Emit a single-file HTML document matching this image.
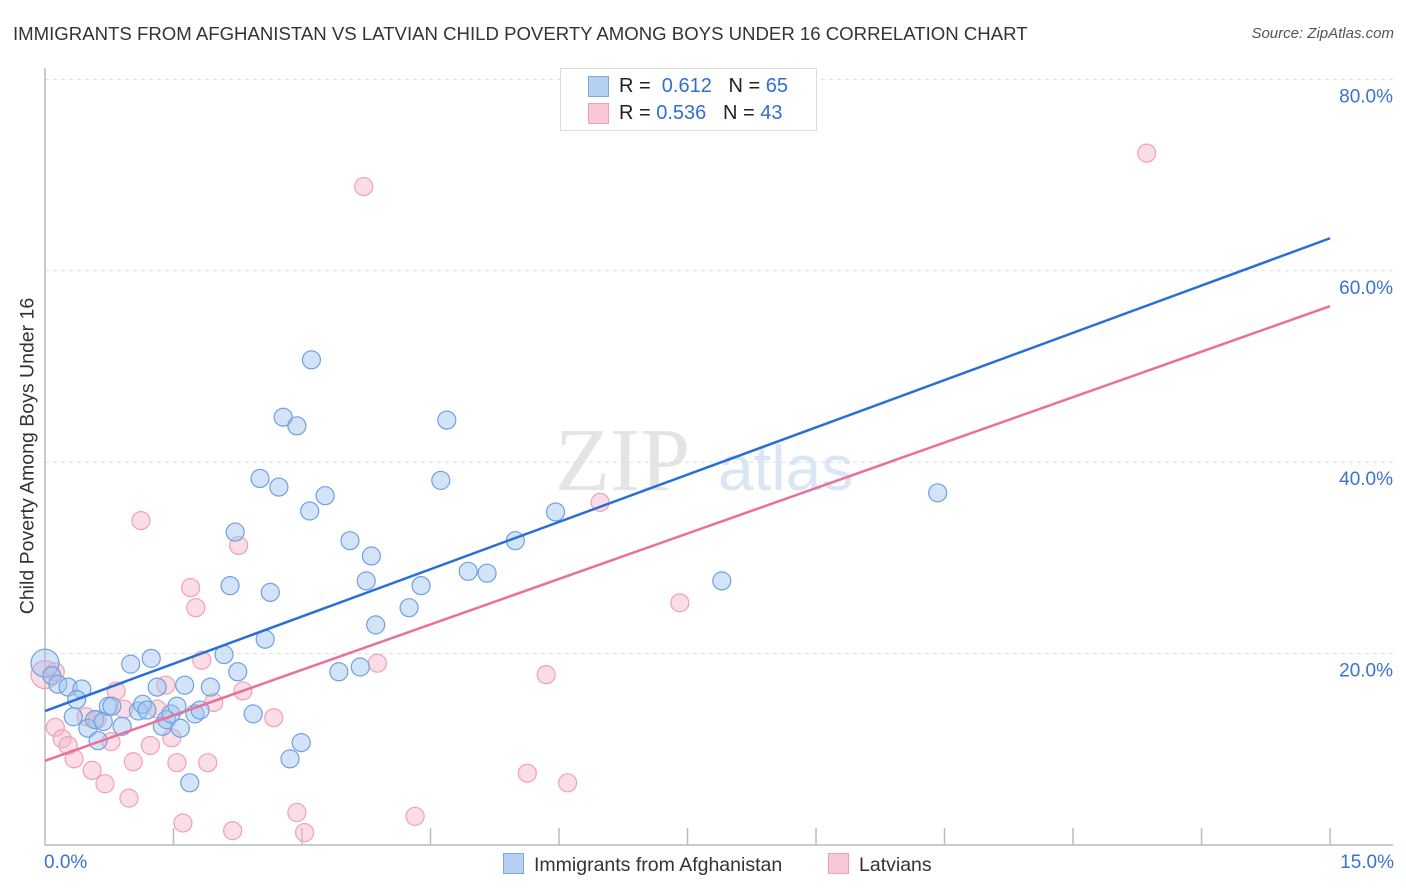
<!DOCTYPE html>
<html><head><meta charset="utf-8">
<style>
body{margin:0;background:#fff;font-family:"Liberation Sans",sans-serif;}
.wrap{position:relative;width:1406px;height:892px;overflow:hidden;}
.t{position:absolute;white-space:nowrap;}
</style></head>
<body><div class="wrap">
<div class="t" style="left:13px;top:23px;font-size:18.6px;color:#333;">IMMIGRANTS FROM AFGHANISTAN VS LATVIAN CHILD POVERTY AMONG BOYS UNDER 16 CORRELATION CHART</div>
<div class="t" style="right:12px;top:25px;font-size:15px;color:#555;font-style:italic;">Source: ZipAtlas.com</div>
<div class="t" style="left:28px;top:456px;font-size:19.5px;color:#333;transform:translate(-50%,-50%) rotate(-90deg);">Child Poverty Among Boys Under 16</div>
<svg id="plot" width="1406" height="892" style="position:absolute;left:0;top:0"></svg>
<div class="t" style="left:560px;top:68px;width:255px;height:61px;border:1px solid #ddd;background:#fff;font-size:20px;">
 <div style="position:absolute;left:27px;top:7px;width:19px;height:19px;background:#b5d0f3;border:1px solid #7aa8e0;"></div>
 <div style="position:absolute;left:58px;top:6px;color:#222;">R = &nbsp;<span style="color:#2f6fd1">0.612</span> &nbsp;&nbsp;N = <span style="color:#2f6fd1">65</span></div>
 <div style="position:absolute;left:27px;top:34px;width:19px;height:19px;background:#f8c8d6;border:1px solid #f0a0b8;"></div>
 <div style="position:absolute;left:58px;top:33px;color:#222;">R = <span style="color:#2f6fd1">0.536</span> &nbsp;&nbsp;N = <span style="color:#2f6fd1">43</span></div>
</div>
<div class="t" style="left:503px;top:853px;font-size:19.5px;color:#333;"><span style="display:inline-block;width:19px;height:19px;background:#b5d0f3;border:1px solid #7aa8e0;vertical-align:-3px;margin-right:10px;"></span>Immigrants from Afghanistan</div>
<div class="t" style="left:828px;top:853px;font-size:19.5px;color:#333;"><span style="display:inline-block;width:19px;height:19px;background:#f8c8d6;border:1px solid #f0a0b8;vertical-align:-3px;margin-right:10px;"></span>Latvians</div>
<div class="t" style="left:44px;top:852px;font-size:19px;color:#3a72d0;">0.0%</div>
<div class="t" style="right:12px;top:852px;font-size:19px;color:#3a72d0;">15.0%</div>
</div>
<script>
const yTicks=[20,40,60,80];
const blueX=[0,0.08,0.15,0.27,0.43,0.37,0.33,0.5,0.58,0.62,0.68,0.9,0.74,0.78,1.0,1.09,1.14,1.24,1.19,1.31,1.37,1.42,1.47,1.54,1.58,1.63,1.69,1.75,1.81,1.93,2.09,2.16,2.22,2.25,2.43,2.51,2.57,2.63,2.73,2.78,2.86,2.94,2.99,3.11,3.09,3.27,3.43,3.56,3.68,3.75,3.81,3.86,4.25,4.39,4.62,4.69,4.94,5.16,5.49,5.96,7.9,10.42];
const blueY=[19.0,17.7,16.8,16.5,16.3,15.2,13.4,12.2,13.1,10.9,12.9,12.4,14.5,14.5,18.9,14.0,14.7,19.5,14.1,16.5,12.4,13.1,13.7,14.5,12.2,16.7,6.5,13.7,14.1,16.5,19.9,27.1,32.7,18.1,13.7,38.3,21.5,26.4,37.4,44.7,9.0,43.8,10.7,50.7,34.9,36.5,18.1,31.8,18.6,27.6,30.2,23.0,24.8,27.1,38.1,44.4,28.6,28.4,31.8,34.8,27.6,36.8];
const pinkX=[0,0.12,0.12,0.2,0.27,0.34,0.48,0.55,0.61,0.7,0.77,0.83,0.92,0.98,1.03,1.12,1.23,1.31,1.41,1.48,1.54,1.61,1.7,1.76,1.83,1.9,1.97,2.19,2.26,2.31,2.67,2.94,3.03,3.72,3.88,4.32,5.63,5.85,6.1,6.48,7.41,12.86];
const pinkY=[17.8,18.1,12.3,11.1,10.4,9.0,13.4,7.8,13.1,6.4,10.8,16.1,14.2,4.9,8.7,33.9,10.4,14.2,16.7,11.2,8.6,2.3,26.9,24.8,19.3,8.6,14.9,1.5,31.3,16.1,13.3,3.4,1.3,68.8,19.0,3.0,7.5,17.8,6.5,35.8,25.3,72.3];
const blueLine=[14.0,63.4];
const pinkLine=[8.8,56.3];
const X=v=>45+v*85.67, Y=v=>845-v*9.57;
const svg=document.getElementById('plot');
const NS='http://www.w3.org/2000/svg';
function mk(t,a){const e=document.createElementNS(NS,t);for(const k in a)e.setAttribute(k,a[k]);svg.appendChild(e);return e;}
let w=mk('text',{x:555,y:490,'font-size':90,fill:'#e4e4e4','font-family':'Liberation Serif, serif'});w.textContent='ZIP';


let w2=mk('text',{x:718,y:490,'font-size':64,fill:'#d8e6f6','font-family':'Liberation Sans, sans-serif'});w2.textContent='atlas';


yTicks.forEach(t=>{
 const g=mk('line',{x1:45,x2:1393,y1:Y(t),y2:Y(t),stroke:'#ddd','stroke-dasharray':'4,4'});
 
 
 const l=mk('text',{x:1393,y:Y(t)+23,'text-anchor':'end','font-size':19,fill:'#3a72d0','font-family':'Liberation Sans, sans-serif'});
 l.textContent=t.toFixed(1)+'%';
 
 
});
const ax=mk('path',{d:'M45 68V845H1393',stroke:'#bbb',fill:'none','stroke-width':1.5});


for(let i=1;i<=10;i++){const tk=mk('line',{x1:X(i*1.5),x2:X(i*1.5),y1:828,y2:845,stroke:'#bbb','stroke-width':1.5});
 
 }
function pts(xs,ys,fill,stroke,name){xs.forEach((x,i)=>{
 const c=mk('circle',{cx:X(x),cy:Y(ys[i]),r:(i==0?14:9),fill:fill,stroke:stroke,'stroke-width':1.2});
 
 });}
pts(pinkX,pinkY,'rgba(246,180,200,0.45)','#f0a0b8','latvian-point');
pts(blueX,blueY,'rgba(160,195,240,0.45)','#6fa0e0','afghanistan-point');
const bl=mk('line',{x1:X(0),y1:Y(blueLine[0]),x2:X(15),y2:Y(blueLine[1]),stroke:'#2a6fd6','stroke-width':2.5});


const pl=mk('line',{x1:X(0),y1:Y(pinkLine[0]),x2:X(15),y2:Y(pinkLine[1]),stroke:'#e8709a','stroke-width':2.5});


</script>
</body></html>
